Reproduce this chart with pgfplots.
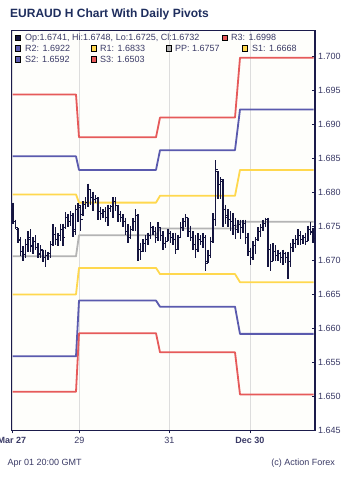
\documentclass[border=0pt]{standalone}
\usepackage{fontspec}
\setmainfont{Liberation Sans}
\usepackage{pgfplots}
\pgfplotsset{compat=1.18}
\usepackage{pgfplotstable}

\definecolor{barc}{HTML}{15153F}
\definecolor{framec}{HTML}{1B1B4B}
\definecolor{redc}{HTML}{E65A5A}
\definecolor{bluec}{HTML}{5A5AAE}
\definecolor{yelc}{HTML}{FFD84E}
\definecolor{grayc}{HTML}{B4B4B4}
\definecolor{gridc}{HTML}{DDDDDD}
\definecolor{plotbg}{HTML}{FEFEFB}
\definecolor{textc}{HTML}{3A3A66}
\definecolor{titlec}{HTML}{1F2E5E}

\pgfplotstableread{
x o h l c
13 1.6775 1.6785 1.6754 1.6757
15.5 1.6757 1.6760 1.6746 1.6749
18 1.6746 1.6747 1.6726 1.6731
20.5 1.6729 1.6734 1.6706 1.6713
23 1.6713 1.6721 1.6699 1.6709
25.5 1.6709 1.6731 1.6704 1.6724
28 1.6724 1.6743 1.6712 1.6734
30.5 1.6731 1.6746 1.6713 1.6721
33 1.6722 1.6734 1.6710 1.6728
35.5 1.6728 1.6737 1.6715 1.6719
38 1.6719 1.6725 1.6703 1.6709
40.5 1.6710 1.6722 1.6704 1.6716
43 1.6715 1.6716 1.6697 1.6704
45.5 1.6704 1.6716 1.6691 1.6707
48 1.6707 1.6713 1.6701 1.6710
50.5 1.6710 1.6728 1.6704 1.6724
53 1.6724 1.6753 1.6721 1.6738
55.5 1.6738 1.6749 1.6722 1.6731
58 1.6731 1.6740 1.6721 1.6737
60.5 1.6737 1.6754 1.6728 1.6746
63 1.6746 1.6754 1.6721 1.6734
65.5 1.6749 1.6771 1.6746 1.6763
68 1.6763 1.6768 1.6749 1.6757
70.5 1.6757 1.6772 1.6750 1.6766
73 1.6766 1.6769 1.6735 1.6743
75.5 1.6746 1.6782 1.6738 1.6775
78 1.6775 1.6785 1.6757 1.6781
80.5 1.6778 1.6782 1.6743 1.6760
83 1.6768 1.6787 1.6765 1.6782
85.5 1.6782 1.6793 1.6775 1.6785
88 1.6785 1.6813 1.6778 1.6804
90.5 1.6804 1.6804 1.6782 1.6793
93 1.6793 1.6801 1.6772 1.6790
95.5 1.6790 1.6796 1.6785 1.6791
98 1.6791 1.6793 1.6760 1.6772
100.5 1.6772 1.6779 1.6760 1.6769
103 1.6769 1.6775 1.6763 1.6772
105.5 1.6772 1.6778 1.6756 1.6763
108 1.6763 1.6782 1.6750 1.6776
110.5 1.6776 1.6782 1.6771 1.6779
113 1.6779 1.6793 1.6763 1.6787
115.5 1.6787 1.6793 1.6772 1.6781
118 1.6781 1.6782 1.6757 1.6768
120.5 1.6768 1.6772 1.6756 1.6763
123 1.6763 1.6768 1.6749 1.6757
125.5 1.6757 1.6763 1.6737 1.6743
128 1.6743 1.6753 1.6726 1.6734
130.5 1.6734 1.6751 1.6731 1.6746
133 1.6746 1.6762 1.6743 1.6757
135.5 1.6757 1.6775 1.6743 1.6766
138 1.6766 1.6768 1.6699 1.6716
140.5 1.6716 1.6726 1.6701 1.6713
143 1.6713 1.6731 1.6713 1.6725
145.5 1.6725 1.6737 1.6713 1.6731
148 1.6731 1.6741 1.6722 1.6737
150.5 1.6737 1.6756 1.6731 1.6749
153 1.6749 1.6751 1.6737 1.6743
155.5 1.6743 1.6749 1.6726 1.6734
158 1.6734 1.6756 1.6728 1.6749
160.5 1.6749 1.6749 1.6728 1.6737
163 1.6737 1.6743 1.6716 1.6725
165.5 1.6725 1.6734 1.6719 1.6728
168 1.6728 1.6746 1.6728 1.6740
170.5 1.6740 1.6743 1.6726 1.6734
173 1.6734 1.6740 1.6722 1.6731
175.5 1.6731 1.6741 1.6709 1.6716
178 1.6716 1.6738 1.6716 1.6734
180.5 1.6734 1.6756 1.6734 1.6749
183 1.6749 1.6763 1.6743 1.6757
185.5 1.6757 1.6768 1.6749 1.6763
188 1.6763 1.6763 1.6734 1.6743
190.5 1.6743 1.6751 1.6728 1.6734
193 1.6734 1.6743 1.6716 1.6724
195.5 1.6724 1.6737 1.6704 1.6716
198 1.6716 1.6740 1.6713 1.6731
200.5 1.6731 1.6737 1.6722 1.6728
203 1.6728 1.6740 1.6719 1.6734
205.5 1.6734 1.6737 1.6684 1.6696
208 1.6699 1.6716 1.6696 1.6707
210.5 1.6707 1.6734 1.6704 1.6728
213 1.6728 1.6769 1.6725 1.6760
215.5 1.6760 1.6847 1.6751 1.6834
218 1.6831 1.6831 1.6790 1.6812
220.5 1.6812 1.6822 1.6790 1.6819
223 1.6816 1.6819 1.6749 1.6775
225.5 1.6775 1.6782 1.6754 1.6763
228 1.6766 1.6775 1.6749 1.6760
230.5 1.6760 1.6772 1.6743 1.6757
233 1.6757 1.6769 1.6738 1.6751
235.5 1.6751 1.6763 1.6731 1.6746
238 1.6746 1.6760 1.6740 1.6753
240.5 1.6753 1.6760 1.6731 1.6749
243 1.6749 1.6760 1.6741 1.6754
245.5 1.6754 1.6760 1.6724 1.6734
248 1.6734 1.6741 1.6706 1.6713
250.5 1.6713 1.6719 1.6693 1.6704
253 1.6704 1.6728 1.6701 1.6722
255.5 1.6722 1.6734 1.6710 1.6731
258 1.6731 1.6749 1.6728 1.6743
260.5 1.6743 1.6754 1.6734 1.6749
263 1.6749 1.6760 1.6743 1.6754
265.5 1.6754 1.6763 1.6749 1.6760
268 1.6760 1.6763 1.6691 1.6716
270.5 1.6716 1.6724 1.6684 1.6699
273 1.6699 1.6725 1.6699 1.6713
275.5 1.6713 1.6722 1.6699 1.6707
278 1.6707 1.6716 1.6699 1.6710
280.5 1.6710 1.6713 1.6696 1.6704
283 1.6704 1.6716 1.6693 1.6710
285.5 1.6710 1.6713 1.6696 1.6704
288 1.6704 1.6713 1.6672 1.6699
290.5 1.6699 1.6726 1.6690 1.6719
293 1.6719 1.6731 1.6713 1.6725
295.5 1.6725 1.6737 1.6719 1.6731
298 1.6731 1.6746 1.6722 1.6737
300.5 1.6737 1.6743 1.6722 1.6731
303 1.6731 1.6737 1.6724 1.6734
305.5 1.6734 1.6741 1.6722 1.6728
308 1.6728 1.6751 1.6728 1.6746
310.5 1.6746 1.6757 1.6737 1.6743
313 1.6741 1.6748 1.6725 1.6732
}\bars

\pgfplotstableread{
x r3 r2 r1 pp s1 s2 s3
12.5 1.6944 1.6853 1.6797 1.6706 1.6650 1.6559 1.6507
76 1.6944 1.6853 1.6797 1.6706 1.6650 1.6559 1.6507
79 1.6881 1.6833 1.6785 1.6737 1.6689 1.6641 1.6593
156 1.6881 1.6833 1.6785 1.6737 1.6689 1.6641 1.6593
160 1.6910 1.6862 1.6795 1.6747 1.6680 1.6632 1.6565
235 1.6910 1.6862 1.6795 1.6747 1.6680 1.6632 1.6565
240 1.6998 1.6922 1.6833 1.6757 1.6668 1.6592 1.6503
313.5 1.6998 1.6922 1.6833 1.6757 1.6668 1.6592 1.6503
}\pivots

\newcommand{\lbox}[3]{%
  \filldraw[fill=#3, draw=black, line width=0.6pt] (#1,#2) rectangle ++(5.6,5.6);}

\begin{document}
\begin{tikzpicture}[x=1pt,y=1pt]
\path[use as bounding box, fill=white] (0,0) rectangle (350,481);
\begin{axis}[
  at={(11.5pt,50.5pt)}, anchor=south west,
  scale only axis, width=303.5pt, height=400pt,
  xmin=11.5, xmax=315, ymin=1.645, ymax=1.7038,
  axis background/.style={fill=plotbg},
  axis line style={draw=framec, line width=1.2pt},
  xtick={12,79.3,169.3,250},
  xticklabels={\textbf{Mar 27},29,31,\textbf{Dec 30}},
  ytick={1.645,1.650,1.655,1.660,1.665,1.670,1.675,1.680,1.685,1.690,1.695,1.700},
  yticklabels={1.645,1.650,1.655,1.660,1.665,1.670,1.675,1.680,1.685,1.690,1.695,1.700},
  xtick pos=bottom, ytick pos=right, yticklabel pos=right,
  xtick align=outside, ytick align=inside,
  major tick length=3pt,
  tick style={draw=framec, line width=0.8pt},
  xmajorgrids,
  major x grid style={draw=gridc, line width=0.8pt},
  ticklabel style={font=\fontsize{9}{10}\selectfont, text=textc},
  yticklabel style={anchor=west, inner sep=0pt, xshift=3pt},
  clip=true,
]
\addplot[redc, line width=1.8pt, line join=round] table[x=x, y=r3] {\pivots};
\addplot[bluec, line width=1.8pt, line join=round] table[x=x, y=r2] {\pivots};
\addplot[yelc, line width=1.8pt, line join=round] table[x=x, y=r1] {\pivots};
\addplot[grayc, line width=1.8pt, line join=round] table[x=x, y=pp] {\pivots};
\addplot[yelc, line width=1.8pt, line join=round] table[x=x, y=s1] {\pivots};
\addplot[bluec, line width=1.8pt, line join=round] table[x=x, y=s2] {\pivots};
\addplot[redc, line width=1.8pt, line join=round] table[x=x, y=s3] {\pivots};

\addplot[draw=none, mark=none,
  error bars/.cd, y dir=minus, y explicit, error mark=none,
  error bar style={draw=barc, line width=1.3pt}]
  table[x=x, y=h, y error expr=\thisrow{h}-\thisrow{l}] {\bars};
\addplot[only marks, mark=-, mark size=1.1pt, xshift=-1.1pt,
  mark options={draw=barc, line width=1pt}] table[x=x, y=o] {\bars};
\addplot[only marks, mark=-, mark size=1.1pt, xshift=1.1pt,
  mark options={draw=barc, line width=1pt}] table[x=x, y=c] {\bars};
\end{axis}

% title and footer
\node[anchor=base west, inner sep=0pt, text=titlec, font=\fontsize{12}{14}\selectfont\bfseries] at (10,463) {EURAUD H Chart With Daily Pivots};
\node[anchor=base west, inner sep=0pt, text=textc, font=\fontsize{9}{10}\selectfont] at (7.5,16) {Apr 01 20:00 GMT};
\node[anchor=base east, inner sep=0pt, text=textc, font=\fontsize{9}{10}\selectfont] at (335,16) {(c) Action Forex};

% legend
\begin{scope}[every node/.style={anchor=base west, inner sep=0pt, text=textc, font=\fontsize{9}{10}\selectfont}]
\lbox{15}{440.3}{barc}
\node at (25,440) {Op:1.6741, Hi:1.6748, Lo:1.6725, Cl:1.6732};
\lbox{222}{440.3}{redc}
\node at (231,440) {R3: 1.6998};
\lbox{15}{429.6}{bluec}
\node at (25,429.3) {R2: 1.6922};
\lbox{91}{429.6}{yelc}
\node at (100,429.3) {R1: 1.6833};
\lbox{166}{429.6}{grayc}
\node at (175,429.3) {PP: 1.6757};
\lbox{242}{429.6}{yelc}
\node at (252,429.3) {S1: 1.6668};
\lbox{15}{419}{bluec}
\node at (25,418.7) {S2: 1.6592};
\lbox{91}{419}{redc}
\node at (100,418.7) {S3: 1.6503};
\end{scope}
\end{tikzpicture}
\end{document}
